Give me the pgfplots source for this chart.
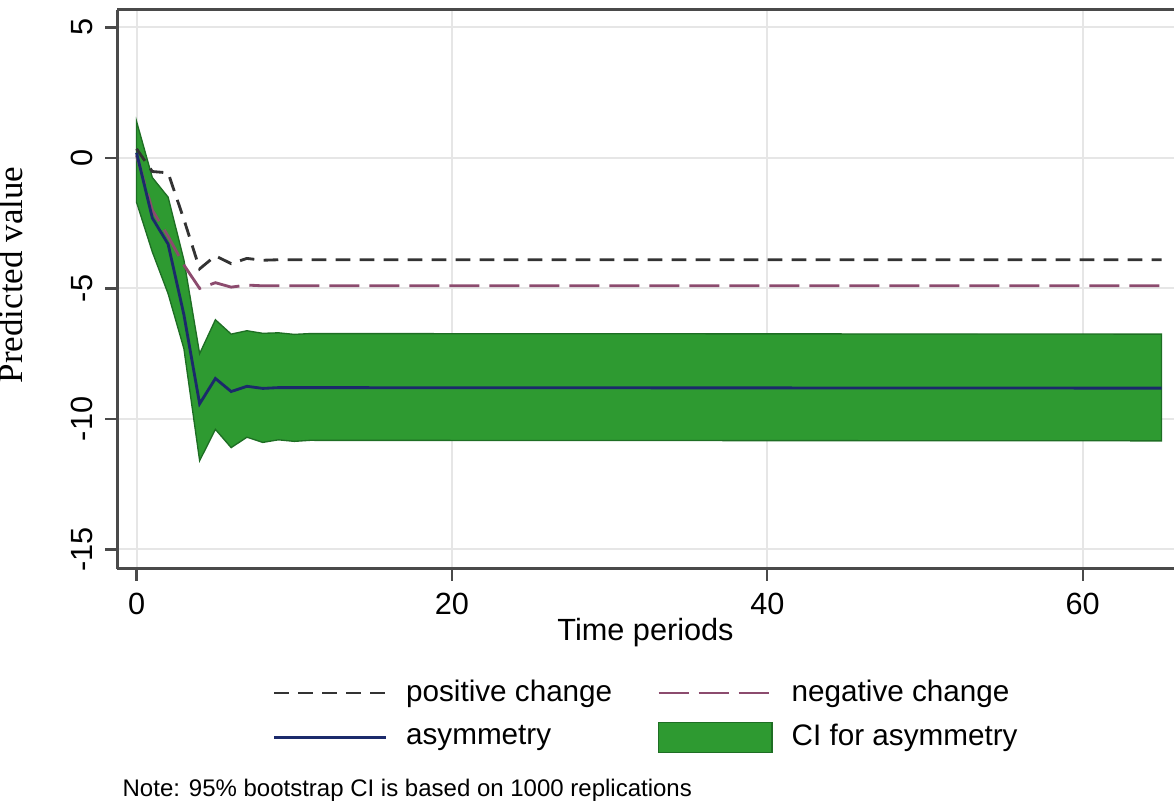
\documentclass[border=0pt]{standalone}
\usepackage{fontspec}
\setmainfont{Liberation Sans}
\newfontfamily\seriffont{Liberation Serif}
\usepackage{pgfplots}
\pgfplotsset{compat=1.18}
\usepgfplotslibrary{fillbetween}
\definecolor{posc}{HTML}{333333}
\definecolor{negc}{HTML}{8C4B6E}
\definecolor{asyc}{HTML}{1B2A6B}
\definecolor{cifill}{HTML}{2E9A31}
\definecolor{ciedge}{HTML}{1E6E24}
\definecolor{gridc}{HTML}{E6E6E6}
\definecolor{axc}{HTML}{4A4A4A}

\begin{document}
\begin{tikzpicture}
\begin{axis}[
  name=ax,
  scale only axis,
  width=317.1pt, height=167.7pt,
  xmin=-1.24, xmax=65.79,
  ymin=-15.75, ymax=5.67,
  xtick={0,20,40,60},
  ytick={-15,-10,-5,0,5},
  axis x line=box, axis y line*=left,
  y axis line style={-},
  axis line style={axc, line width=0.9pt},
  xtick pos=bottom, ytick pos=left,
  tick align=outside,
  major tick length=3.6pt,
  tick style={axc, line width=0.7pt},
  grid=major,
  major grid style={gridc, line width=0.6pt},
  /pgf/number format/assume math mode=true,
  ticklabel style={font=\fontsize{9.2}{11}\selectfont},
  yticklabel style={rotate=90, anchor=south},
  xlabel={Time periods},
  xlabel style={font=\fontsize{9.2}{11}\selectfont, at={(axis description cs:0.5,-0.1145)}, anchor=center},
  ylabel={Predicted value},
  ylabel style={font=\seriffont\fontsize{10.5}{12}\selectfont, at={(axis description cs:-0.0776,0.526)}, anchor=south},
  legend columns=2,
  legend style={
    at={(axis description cs:0.1466,-0.197)}, anchor=north west,
    draw=none, fill=none, inner sep=0pt, row sep=4.6pt,
    font=\fontsize{8.9}{11}\selectfont,
    nodes={inner sep=0pt},
    /tikz/every odd column/.append style={column sep=5.7pt},
    /tikz/every even column/.append style={column sep=13.5pt},
  },
  legend cell align=left,
  legend image code/.code={\draw[#1] (0pt,0pt) -- (33.5pt,0pt);},
]
% confidence band
\addplot[name path=up, draw=none, forget plot] coordinates {
  (0,1.4) (1,-0.75) (2,-1.5) (3,-3.9) (4,-7.5) (5,-6.2) (6,-6.75) (7,-6.62)
  (8,-6.72) (9,-6.7) (10,-6.76) (11,-6.73) (65,-6.75)
};
\addplot[name path=lo, draw=none, forget plot] coordinates {
  (0,-1.7) (1,-3.6) (2,-5.2) (3,-7.3) (4,-11.6) (5,-10.4) (6,-11.1) (7,-10.7)
  (8,-10.9) (9,-10.8) (10,-10.86) (11,-10.82) (65,-10.84)
};
\addplot[fill=cifill, draw=ciedge, line width=0.4pt, forget plot] fill between[of=up and lo];

\addplot[posc, line width=0.85pt, dash pattern=on 4.4pt off 2.8pt] coordinates {
  (0,0.35) (1,-0.52) (2,-0.57) (3,-2.35) (4,-4.25) (5,-3.75) (6,-4.05) (7,-3.85)
  (8,-3.92) (9,-3.9) (65,-3.9)
};
\addlegendentry{positive change}
\addplot[negc, line width=0.85pt, dash pattern=on 9pt off 3pt] coordinates {
  (0,0.1) (1,-2.0) (2,-3.0) (3,-4.1) (4,-5.0) (5,-4.78) (6,-4.95) (7,-4.87)
  (8,-4.9) (65,-4.9)
};
\addlegendentry{negative change}
\addplot[asyc, line width=0.85pt] coordinates {
  (0,0.2) (1,-2.3) (2,-3.3) (3,-6.0) (4,-9.42) (5,-8.45) (6,-8.95) (7,-8.75)
  (8,-8.83) (9,-8.8) (65,-8.82)
};
\addlegendentry{asymmetry}
\addlegendimage{legend image code/.code={\draw[fill=cifill, draw=ciedge, line width=0.4pt] (0pt,-4.5pt) rectangle (34pt,4.5pt);}}
\addlegendentry{CI for asymmetry}
\end{axis}
\node[anchor=west, inner sep=0pt, font=\fontsize{7.2}{8.5}\selectfont]
  at ([shift={(1.5pt,-66.3pt)}]ax.south west) {Note: 95\% bootstrap CI is based on 1000 replications};
\pgfresetboundingbox
\path ([shift={(-35.1pt,-71.7pt)}]ax.south west) rectangle ([shift={(0pt,3pt)}]ax.north east);
\end{tikzpicture}
\end{document}
